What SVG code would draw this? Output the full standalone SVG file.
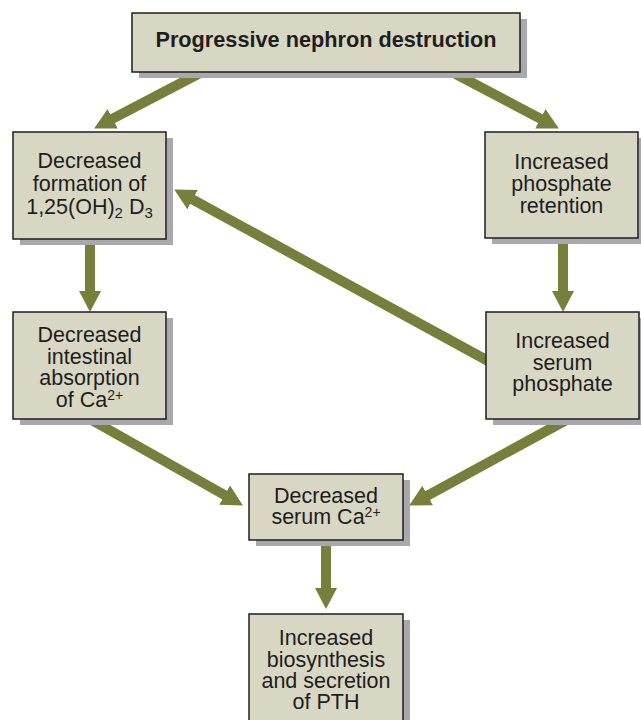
<svg xmlns="http://www.w3.org/2000/svg" width="641" height="720" viewBox="0 0 641 720">
<style>
.box{fill:#d8d7c3;stroke:#1e1e1e;stroke-width:1.5}
.sh{fill:#a9a9ad}
.t{font-family:"Liberation Sans",Arial,sans-serif;font-size:21.5px;fill:#1e1e1e;text-anchor:middle}
.b{font-weight:bold;font-size:21.7px}
.a{stroke:#76803a;stroke-width:10;fill:none;marker-end:url(#ah)}
</style>
<defs>
<marker id="ah" markerUnits="userSpaceOnUse" markerWidth="22" markerHeight="24" refX="8" refY="12" orient="auto" viewBox="0 0 22 24">
<path d="M0,1 L21,12 L0,23 z" fill="#76803a"/>
</marker>
</defs>
<rect width="641" height="720" fill="#fff"/>
<g id="connectors">
<line class="a" x1="202" y1="72" x2="105.6" y2="122.4"/>
<line class="a" x1="452" y1="72" x2="547.4" y2="122.4"/>
<line class="a" x1="490" y1="362" x2="185.6" y2="195.7"/>
<line class="a" x1="90" y1="239" x2="90" y2="299"/>
<line class="a" x1="563" y1="238" x2="563" y2="299"/>
<line class="a" x1="88" y1="418" x2="231.6" y2="499"/>
<line class="a" x1="570" y1="418" x2="420.6" y2="499.3"/>
<line class="a" x1="326" y1="540" x2="326" y2="596"/>
</g>
<g id="n-top">
<rect class="sh" x="139" y="19" width="388" height="59"/>
<rect class="box" x="132" y="13" width="388" height="59"/>
<text class="t b" x="326" y="47">Progressive nephron destruction</text>
</g>
<g id="n-vitd">
<rect class="sh" x="20" y="138" width="153" height="107"/>
<rect class="box" x="13" y="132" width="153" height="107"/>
<text class="t" x="89.5" y="168">Decreased</text>
<text class="t" x="89.5" y="191">formation of</text>
<text class="t" x="89.5" y="214">1,25(OH)<tspan font-size="15" dy="4">2</tspan><tspan dy="-4"> D</tspan><tspan font-size="15" dy="4">3</tspan></text>
</g>
<g id="n-retention">
<rect class="sh" x="492" y="138" width="153" height="106"/>
<rect class="box" x="485" y="132" width="153" height="106"/>
<text class="t" x="561.5" y="169">Increased</text>
<text class="t" x="561.5" y="191">phosphate</text>
<text class="t" x="561.5" y="213">retention</text>
</g>
<g id="n-absorption">
<rect class="sh" x="20" y="318" width="153" height="107"/>
<rect class="box" x="13" y="312" width="153" height="107"/>
<text class="t" x="89.5" y="342">Decreased</text>
<text class="t" x="89.5" y="364">intestinal</text>
<text class="t" x="89.5" y="385">absorption</text>
<text class="t" x="89.5" y="407">of Ca<tspan font-size="14" dy="-7">2+</tspan></text>
</g>
<g id="n-phosphate">
<rect class="sh" x="493" y="318" width="153" height="107"/>
<rect class="box" x="486" y="312" width="153" height="107"/>
<text class="t" x="562.5" y="348">Increased</text>
<text class="t" x="562.5" y="370">serum</text>
<text class="t" x="562.5" y="391">phosphate</text>
</g>
<g id="n-calcium">
<rect class="sh" x="256" y="480" width="154" height="66"/>
<rect class="box" x="249" y="474" width="154" height="66"/>
<text class="t" x="326" y="503">Decreased</text>
<text class="t" x="326" y="524">serum Ca<tspan font-size="14" dy="-7">2+</tspan></text>
</g>
<g id="n-pth">
<rect class="sh" x="256" y="620" width="154" height="110"/>
<rect class="box" x="249" y="614" width="154" height="110"/>
<text class="t" x="326" y="645">Increased</text>
<text class="t" x="326" y="667">biosynthesis</text>
<text class="t" x="326" y="688">and secretion</text>
<text class="t" x="326" y="709">of PTH</text>
</g>
</svg>
